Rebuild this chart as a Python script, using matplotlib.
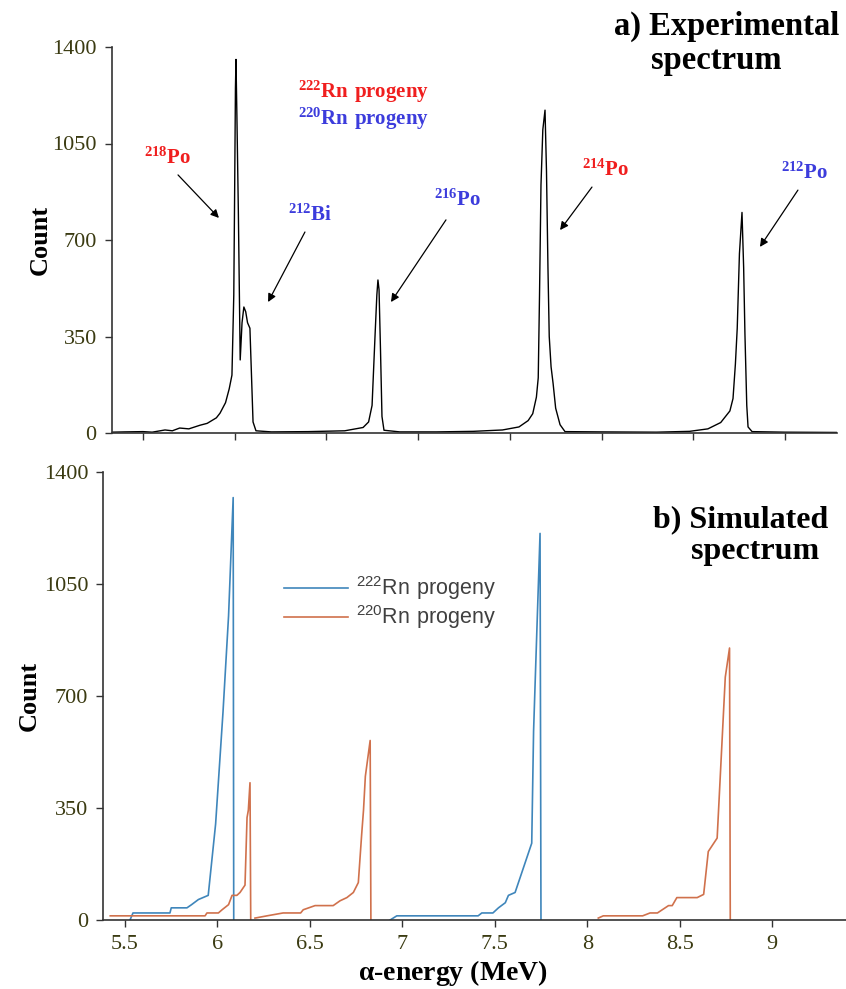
import numpy as np
import matplotlib
matplotlib.use("Agg")
import matplotlib.pyplot as plt

plt.rcParams['font.family'] = ['Liberation Serif', 'DejaVu Serif']
plt.rcParams['mathtext.fontset'] = 'custom'
plt.rcParams['mathtext.rm'] = 'Liberation Serif'
plt.rcParams['mathtext.bf'] = 'Liberation Serif:bold'
plt.rcParams['mathtext.sf'] = 'Liberation Sans'

# experimental spectrum
exp_energy = [5.331, 5.40, 5.50, 5.55, 5.62, 5.66, 5.70, 5.75, 5.81, 5.85, 5.90, 5.92,
              5.95, 5.97, 5.985, 5.995, 6.000, 6.004, 6.007, 6.012, 6.020, 6.030, 6.040,
              6.050, 6.060, 6.070, 6.083, 6.092, 6.100, 6.116, 6.20, 6.40, 6.60, 6.70,
              6.73, 6.749, 6.765, 6.775, 6.781, 6.787, 6.795, 6.803, 6.814, 6.90, 7.10,
              7.30, 7.46, 7.55, 7.60, 7.625, 7.645, 7.655, 7.662, 7.670, 7.680, 7.692,
              7.700, 7.708, 7.715, 7.725, 7.736, 7.750, 7.774, 7.801, 8.00, 8.30, 8.48,
              8.58, 8.65, 8.70, 8.717, 8.730, 8.740, 8.752, 8.766, 8.775, 8.782, 8.792,
              8.799, 8.821, 9.00, 9.28]
exp_count = [3, 4, 5, 3, 11, 8, 18, 15, 28, 35, 55, 72,
             110, 160, 210, 500, 900, 1250, 1355, 1150, 800, 265, 400,
             457, 440, 400, 380, 200, 40, 8, 4, 5, 8, 20,
             40, 100, 350, 500, 555, 520, 300, 60, 10, 4, 4,
             6, 11, 22, 45, 70, 130, 200, 500, 900, 1100, 1171,
             950, 600, 350, 240, 180, 90, 30, 5, 4, 3, 6,
             15, 38, 80, 125, 250, 380, 650, 800, 600, 360, 100,
             22, 5, 3, 2]

# simulated spectra (nan separates the peak groups)
rn222_energy = [5.527, 5.543, 5.743, 5.75, 5.835, 5.86, 5.897, 5.95, 5.99, 6.03, 6.06,
                6.085, 6.088, np.nan, 6.934, 6.97, 7.41, 7.43, 7.49, 7.52, 7.557, 7.574,
                7.61, 7.70, 7.71, 7.718, 7.745, 7.75]
rn222_count = [0, 22, 22, 38, 38, 48, 64, 77, 300, 650, 950,
               1320, 0, np.nan, 0, 13, 13, 22, 22, 38, 54, 77,
               86, 240, 590, 733, 1208, 0]

rn220_energy = [5.42, 5.933, 5.943, 6.005, 6.025, 6.06, 6.079, 6.105, 6.122, 6.149, 6.16,
                6.167, 6.176, 6.18, np.nan, 6.203, 6.268, 6.355, 6.45, 6.464, 6.528, 6.626,
                6.663, 6.70, 6.735, 6.762, 6.78, 6.79, 6.80, 6.826, 6.83, np.nan, 8.06,
                8.087, 8.30, 8.34, 8.38, 8.44, 8.46, 8.485, 8.595, 8.63, 8.655, 8.703,
                8.747, 8.77, 8.774]
rn220_count = [13, 13, 22, 22, 32, 48, 77, 77, 86, 109, 320,
               343, 429, 0, np.nan, 6, 13, 22, 22, 32, 45, 45,
               60, 70, 86, 117, 267, 343, 449, 561, 0, np.nan, 6,
               13, 13, 22, 22, 45, 45, 70, 70, 80, 214, 256,
               759, 850, 0]

yticks = [0, 350, 700, 1050, 1400]
xticks = [5.5, 6, 6.5, 7, 7.5, 8, 8.5, 9]

RED = '#f01e1e'
BLUE = '#3c3cdc'
TICKC = '#3b3b12'

W, H = 846, 989
fig = plt.figure(figsize=(W / 100, H / 100), dpi=100)

def px(x, y):
    return x / W, 1 - y / H

# ---- a) experimental ----
ax1 = fig.add_axes([112 / W, 1 - 433 / H, (837 - 112) / W, (433 - 47) / H])
ax1.plot(exp_energy, exp_count, color='black', lw=1.0)
ax1.set_xlim(5.331, 9.284)
ax1.set_ylim(0, 1400)
ax1.set_yticks(yticks)
ax1.set_xticks(xticks)
ax1.set_xticklabels([])
ax1.set_ylabel('Count', fontsize=19, fontweight='bold', labelpad=0)

# ---- b) simulated ----
ax2 = fig.add_axes([103.4 / W, 1 - 920 / H, (846 - 103.4) / W, (920 - 472) / H])
ax2.plot(rn222_energy, rn222_count, color='#3f86bb', lw=1.2, label=r'$\mathsf{^{222}Rn\ progeny}$')
ax2.plot(rn220_energy, rn220_count, color='#d0714c', lw=1.2, label=r'$\mathsf{^{220}Rn\ progeny}$')
ax2.set_xlim(5.383, 9.40)
ax2.set_ylim(0, 1400)
ax2.set_yticks(yticks)
ax2.set_xticks(xticks)
ax2.set_xticklabels(['5.5', '6', '6.5', '7', '7.5', '8', '8.5', '9'])
ax2.set_ylabel('Count', fontsize=19, fontweight='bold', labelpad=2)
ax2.set_xlabel(r'$\mathbf{\alpha}$-energy (MeV)', fontsize=20, fontweight='bold')
ax2.xaxis.set_label_coords((453 - 103.4) / (846 - 103.4), (920 - 958) / 448)

for ax in (ax1, ax2):
    for s in ('top', 'right'):
        ax.spines[s].set_visible(False)
    for s in ('left', 'bottom'):
        ax.spines[s].set_color('#333333')
        ax.spines[s].set_linewidth(1.2)
    ax.tick_params(direction='out', length=5, width=1, color='#333333',
                   labelsize=16, labelcolor=TICKC, pad=6)

leg = ax2.legend(loc='upper left', bbox_to_anchor=(161 / (846 - 103.4), 0.815),
                 frameon=False, fontsize=15.5, handlelength=3.0, handletextpad=0.35,
                 labelspacing=0.05, labelcolor='#404040')

# panel titles
fig.text(*px(727, 26), 'a) Experimental', fontsize=23.5, fontweight='bold', ha='center', va='center')
fig.text(*px(716, 60), 'spectrum', fontsize=23.5, fontweight='bold', ha='center', va='center')
fig.text(*px(741, 520), 'b) Simulated', fontsize=23, fontweight='bold', ha='center', va='center')
fig.text(*px(755, 552), 'spectrum', fontsize=23, fontweight='bold', ha='center', va='center')

# isotope annotations on the experimental panel
arrow = dict(arrowstyle='-|>', color='black', lw=0.9, mutation_scale=12, shrinkA=0, shrinkB=0)
labels = [
    (r'$\mathbf{^{218}Po}$', RED, (5.636, 997), (5.691, 936), (5.914, 780)),
    (r'$\mathbf{^{212}Bi}$', BLUE, (6.411, 791), (6.383, 729), (6.182, 475)),
    (r'$\mathbf{^{216}Po}$', BLUE, (7.212, 845), (7.152, 773), (6.852, 475)),
    (r'$\mathbf{^{214}Po}$', RED, (8.019, 954), (7.948, 892), (7.774, 736)),
    (r'$\mathbf{^{212}Po}$', BLUE, (9.104, 943), (9.071, 881), (8.864, 675)),
]
for txt, col, tpos, tail, head in labels:
    ax1.text(tpos[0], tpos[1], txt, color=col, fontsize=15, ha='center', va='center')
    ax1.annotate('', xy=head, xytext=tail, arrowprops=arrow)

ax1.text(6.70, 1237, r'$\mathbf{^{222}Rn\ progeny}$', color=RED, fontsize=15, ha='center', va='center')
ax1.text(6.70, 1139, r'$\mathbf{^{220}Rn\ progeny}$', color=BLUE, fontsize=15, ha='center', va='center')

fig.savefig('out.png', dpi=100)
